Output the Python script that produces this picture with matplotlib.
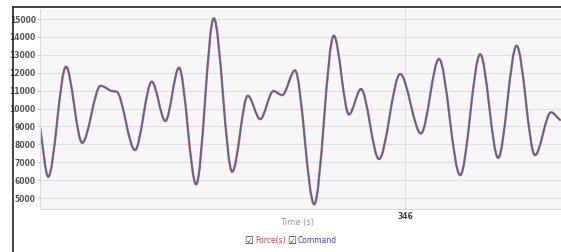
import numpy as np
import matplotlib
matplotlib.use("Agg")
import matplotlib.pyplot as plt
from matplotlib.path import Path
from matplotlib.patches import PathPatch
from matplotlib.lines import Line2D

# turning points (time in s, value)
time_s = [336.875, 337.08, 337.525, 337.93, 338.39, 338.67, 338.79, 339.25,
          339.67, 340.01, 340.35, 340.78, 341.22, 341.68, 342.07, 342.38,
          342.71, 342.93, 343.25, 343.73, 344.22, 344.6, 344.9, 345.35,
          345.88, 346.4, 346.85, 347.38, 347.88, 348.33, 348.79, 349.25,
          349.65, 349.875]
command = [8980, 6190, 12335, 8090, 11270, 10980, 10940, 7680,
           11500, 9300, 12280, 5765, 15040, 6470, 10720, 9410,
           10980, 10750, 12130, 4650, 14070, 9670, 11090, 7180,
           11930, 8610, 12770, 6280, 13030, 7250, 13510, 7400,
           9790, 9360]
force = list(command)  # the two traces sit on top of each other

y_ticks = [5000, 6000, 7000, 8000, 9000, 10000, 11000, 12000, 13000, 14000, 15000]
x_ticks = [346]


def smooth_path(xs, ys):
    """monotone cubic bezier path through the points (like a spline series)"""
    xs = np.asarray(xs, float)
    ys = np.asarray(ys, float)
    h = np.diff(xs)
    delta = np.diff(ys) / h
    n = len(xs)
    d = np.zeros(n)
    for i in range(1, n - 1):
        if delta[i - 1] * delta[i] > 0:
            w1 = 2 * h[i] + h[i - 1]
            w2 = h[i] + 2 * h[i - 1]
            d[i] = (w1 + w2) / (w1 / delta[i - 1] + w2 / delta[i])
    d[0] = delta[0]
    d[-1] = delta[-1]
    verts = [(xs[0], ys[0])]
    codes = [Path.MOVETO]
    for i in range(n - 1):
        verts += [(xs[i] + h[i] / 3, ys[i] + d[i] * h[i] / 3),
                  (xs[i + 1] - h[i] / 3, ys[i + 1] - d[i + 1] * h[i] / 3),
                  (xs[i + 1], ys[i + 1])]
        codes += [Path.CURVE4] * 3
    return Path(verts, codes)


fig = plt.figure(figsize=(5.61, 2.52), dpi=100)
ax = fig.add_axes([40 / 561, 1 - 209 / 252, 1 - 40 / 561, 200 / 252])
ax.set_facecolor("#f6f6f6")

ax.add_patch(PathPatch(smooth_path(time_s, force), fill=False,
                       edgecolor="#a87080", lw=1.7, capstyle="round"))
ax.add_patch(PathPatch(smooth_path(time_s, command), fill=False,
                       edgecolor="#5c5c9a", lw=1.0, alpha=0.9))

ax.set_xlim(336.875, 349.9)
ax.set_ylim(4390, 15560)
ax.set_yticks(y_ticks)
ax.set_xticks(x_ticks)
ax.set_xticklabels([str(t) for t in x_ticks])
ax.grid(True, color="#e0e0e0", lw=0.8)
ax.set_axisbelow(True)
for s in ["top", "right"]:
    ax.spines[s].set_visible(False)
for s in ["left", "bottom"]:
    ax.spines[s].set_color("#dadada")
    ax.spines[s].set_linewidth(0.8)
ax.tick_params(axis="y", length=2, color="#cccccc", labelsize=5.5,
               labelcolor="#555555", pad=1)
ax.tick_params(axis="x", length=0, labelsize=5.5, labelcolor="#444444", pad=2)
for lab in ax.get_yticklabels() + ax.get_xticklabels():
    lab.set_fontweight("bold")

fig.text(297 / 561, 1 - 222 / 252, "Time (s)", ha="center", va="center",
         fontsize=6, color="#999999")

# legend with check boxes
fig.text(249 / 561, 1 - 240.5 / 252, "\u2611", ha="center", va="center",
         fontsize=7, color="#333333")
fig.text(255 / 561, 1 - 240.5 / 252, "Force(s)", ha="left", va="center",
         fontsize=5.5, color="#cc4444")
fig.text(292 / 561, 1 - 240.5 / 252, "\u2611", ha="center", va="center",
         fontsize=7, color="#333333")
fig.text(298 / 561, 1 - 240.5 / 252, "Command", ha="left", va="center",
         fontsize=5.5, color="#4444bb")

# outer panel border (top and left only)
fig.add_artist(Line2D([12.7 / 561, 1], [1 - 6.7 / 252, 1 - 6.7 / 252],
                      color="#222222", lw=1.2, transform=fig.transFigure))
fig.add_artist(Line2D([12.7 / 561, 12.7 / 561], [0, 1 - 6.7 / 252],
                      color="#222222", lw=1.2, transform=fig.transFigure))

fig.savefig("out.png", dpi=100)
plt.close(fig)
